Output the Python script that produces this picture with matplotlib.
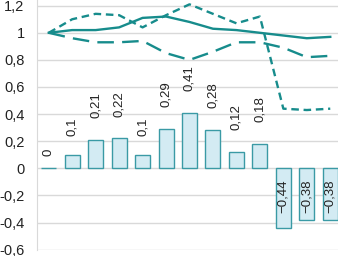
import matplotlib
matplotlib.use("Agg")
import matplotlib.pyplot as plt
import numpy as np

plt.rcParams['font.family'] = ['Liberation Sans', 'DejaVu Sans']

categories = list(range(13))
bar_values = [0, 0.1, 0.21, 0.22, 0.1, 0.29, 0.41, 0.28, 0.12, 0.18, -0.44, -0.38, -0.38]
solid_line = [1.0, 1.02, 1.02, 1.04, 1.11, 1.12, 1.08, 1.03, 1.02, 1.0, 0.98, 0.96, 0.97]
short_dash_line = [1.0, 1.10, 1.14, 1.13, 1.04, 1.13, 1.21, 1.14, 1.07, 1.12, 0.44, 0.43, 0.44]
long_dash_line = [1.0, 0.96, 0.93, 0.93, 0.94, 0.85, 0.80, 0.86, 0.93, 0.93, 0.89, 0.82, 0.83]
yticks = [-0.6, -0.4, -0.2, 0, 0.2, 0.4, 0.6, 0.8, 1.0, 1.2]

def fmt(v):
    return ('%g' % round(v, 2)).replace('.', ',')

W, H = 338, 256
DPI = 100
fig = plt.figure(figsize=(W / DPI, H / DPI), dpi=DPI)
left_px, right_px = 37, 342
ymin, ymax = -0.6, 1.3
y0_px = 249.6
ppu = 135.5
top_px = y0_px - (ymax - ymin) * ppu
ax = fig.add_axes([left_px / W, (H - y0_px) / H, (right_px - left_px) / W, (y0_px - top_px) / H])

x = np.array(categories)
line_color = '#178c8c'
ax.bar(x, bar_values, width=0.64, color='#d3ebf3', edgecolor='#3a9aa5', linewidth=1.0, zorder=2)
ax.plot(x, solid_line, color=line_color, lw=1.7, zorder=3)
ax.plot(x, short_dash_line, color=line_color, lw=1.7, dashes=(3.2, 2.0), zorder=3)
ax.plot(x, long_dash_line, color=line_color, lw=1.7, dashes=(7, 3.5), zorder=3)

pos_labels = []
for xi, v in zip(x, bar_values):
    if v >= 0:
        t = ax.annotate(fmt(v), (xi, v), xytext=(0, 8), textcoords='offset points',
                        rotation=90, ha='center', va='bottom', fontsize=9.5, color='#222222')
        pos_labels.append(t)
    else:
        ax.annotate('\u2212' + fmt(-v), (xi, 0), xytext=(0, -8), textcoords='offset points',
                    rotation=90, ha='center', va='top', fontsize=9.5, color='#222222', zorder=4)

ax.set_xlim(-0.5, 12.5)
ax.set_ylim(ymin, ymax)
ax.set_yticks(yticks)
ax.set_yticklabels([fmt(t) for t in yticks], fontsize=10.5, color='#222222')
ax.set_xticks([])
ax.tick_params(axis='y', length=0, pad=9)
ax.grid(axis='y', color='#d9d9d9', lw=1.0, zorder=0)
ax.set_axisbelow(True)
for s in ['top', 'right', 'bottom']:
    ax.spines[s].set_visible(False)
ax.spines['left'].set_color('#d9d9d9')
ax.spines['left'].set_bounds(-0.6, 1.3)

# Excel-like placement: gap above bar grows with label length
fig.canvas.draw()
r = fig.canvas.get_renderer()
for t in pos_labels:
    L = t.get_window_extent(r).height  # px
    gap_px = L / 2 + 9
    t.xyann = (0, gap_px * 72 / DPI)

fig.savefig('out.png', dpi=DPI)
